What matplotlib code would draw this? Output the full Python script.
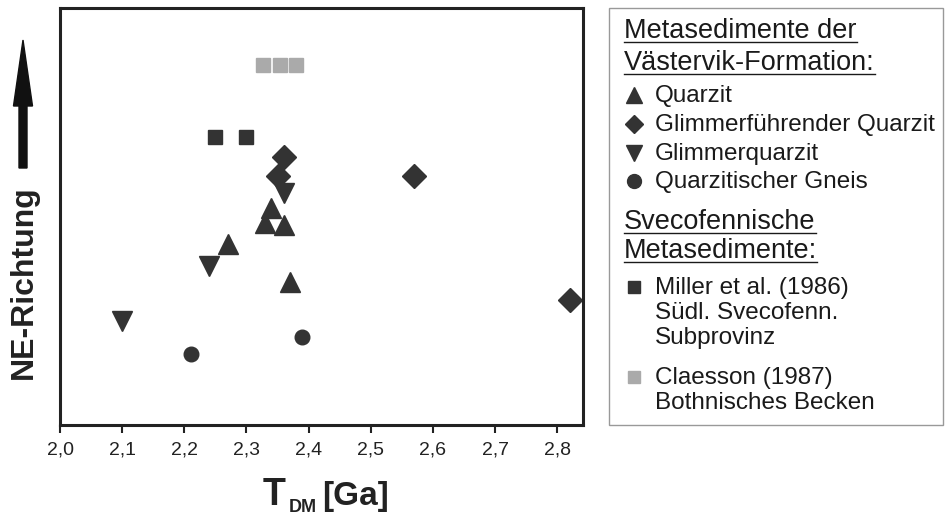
import matplotlib.pyplot as plt
from matplotlib.patches import Rectangle, FancyArrow
from matplotlib.lines import Line2D

plt.rcParams['font.family'] = ['Liberation Sans', 'DejaVu Sans']

# T_DM [Ga] und relative Lage in NE-Richtung (ohne Einheit)
quarzit_x = [2.34, 2.33, 2.36, 2.27, 2.37]
quarzit_y = [217, 202, 200, 181, 143]
glimmerf_x = [2.36, 2.35, 2.57, 2.82]
glimmerf_y = [268, 249, 249, 125]
glimmerq_x = [2.36, 2.24, 2.10]
glimmerq_y = [232, 159, 104]
gneis_x = [2.21, 2.39]
gneis_y = [71, 88]
miller_x = [2.25, 2.30]
miller_y = [288, 288]
claesson_x = [2.327, 2.354, 2.379]
claesson_y = [360, 360, 360]

xticks = [2.0, 2.1, 2.2, 2.3, 2.4, 2.5, 2.6, 2.7, 2.8]
xticklabels = ['2,0', '2,1', '2,2', '2,3', '2,4', '2,5', '2,6', '2,7', '2,8']

dark = '#333333'
grey = '#aaaaaa'
ink = '#1a1a1a'

fig = plt.figure(figsize=(9.53, 5.17), dpi=100)
ax = fig.add_axes([0.063, 0.178, 0.549, 0.807])

ax.plot(quarzit_x, quarzit_y, '^', ms=15, color=dark, ls='none')
ax.plot(glimmerf_x, glimmerf_y, 'D', ms=12.5, color=dark, ls='none')
ax.plot(glimmerq_x, glimmerq_y, 'v', ms=15, color=dark, ls='none')
ax.plot(gneis_x, gneis_y, 'o', ms=10.5, color=dark, ls='none')
ax.plot(miller_x, miller_y, 's', ms=10, color=dark, ls='none')
ax.plot(claesson_x, claesson_y, 's', ms=10, color=grey, ls='none')

ax.set_xlim(2.0, 2.842)
ax.set_ylim(0, 417)
ax.set_xticks(xticks)
ax.set_xticklabels(xticklabels, fontsize=14)
ax.set_yticks([])
ax.tick_params(axis='x', direction='out', length=6, width=1.5, pad=6, colors='#222222')
for s in ax.spines.values():
    s.set_linewidth(2.2)
    s.set_color('#222222')

def px(x, y):
    return x / 953, 1 - y / 517

# x-Beschriftung: T_DM [Ga]
fig.text(*px(263, 505), 'T', fontsize=27, fontweight='bold', ha='left',
         va='baseline', color='#222222')
fig.text(*px(289, 512), 'DM', fontsize=13, fontweight='bold', ha='left',
         va='baseline', color='#222222')
fig.text(*px(322, 505), '[Ga]', fontsize=24, fontweight='bold', ha='left',
         va='baseline', color='#222222')

# y-Beschriftung mit Pfeil
fig.text(*px(24, 282), 'NE-Richtung', rotation=90, fontsize=23, fontweight='bold',
         ha='center', va='center', color='#222222')
ax0, ay0 = px(23, 168)
ax1, ay1 = px(23, 40)
fig.patches.append(FancyArrow(ax0, ay0, 0, ay1 - ay0, width=8 / 953, head_width=19 / 953,
                              head_length=66 / 517, length_includes_head=True,
                              transform=fig.transFigure, color='#111111'))

# Legende
fig.patches.append(Rectangle(px(609, 425), 334 / 953, 417 / 517,
                             transform=fig.transFigure, fill=False,
                             edgecolor='#999999', lw=1))

headers = [('Metasedimente der', 30), ('Västervik-Formation:', 62),
           ('Svecofennische', 221), ('Metasedimente:', 250)]
fig.canvas.draw()
rend = fig.canvas.get_renderer()
for txt, y in headers:
    t = fig.text(*px(624, y + 8), txt, fontsize=19.5, ha='left', va='baseline', color=ink)
    bb = t.get_window_extent(renderer=rend)
    yy = 1 - (y + 12) / 517
    fig.lines.append(Line2D([bb.x0 / fig.bbox.width, bb.x1 / fig.bbox.width], [yy, yy],
                            transform=fig.transFigure, color=ink, lw=1))

entries = [('^', dark, 11, ['Quarzit'], 95),
           ('D', dark, 9, ['Glimmerführender Quarzit'], 124),
           ('v', dark, 11, ['Glimmerquarzit'], 153),
           ('o', dark, 10, ['Quarzitischer Gneis'], 181),
           ('s', dark, 8, ['Miller et al. (1986)', 'Südl. Svecofenn.', 'Subprovinz'], 287),
           ('s', grey, 8, ['Claesson (1987)', 'Bothnisches Becken'], 377)]
for m, c, ms, lines, y in entries:
    fig.lines.append(Line2D([634 / 953], [1 - y / 517], marker=m, ms=ms, color=c,
                            ls='none', transform=fig.transFigure))
    for i, txt in enumerate(lines):
        fig.text(*px(655, y + 7 + 25 * i), txt, fontsize=17.5, ha='left',
                 va='baseline', color=ink)

fig.savefig('out.png', dpi=100)
